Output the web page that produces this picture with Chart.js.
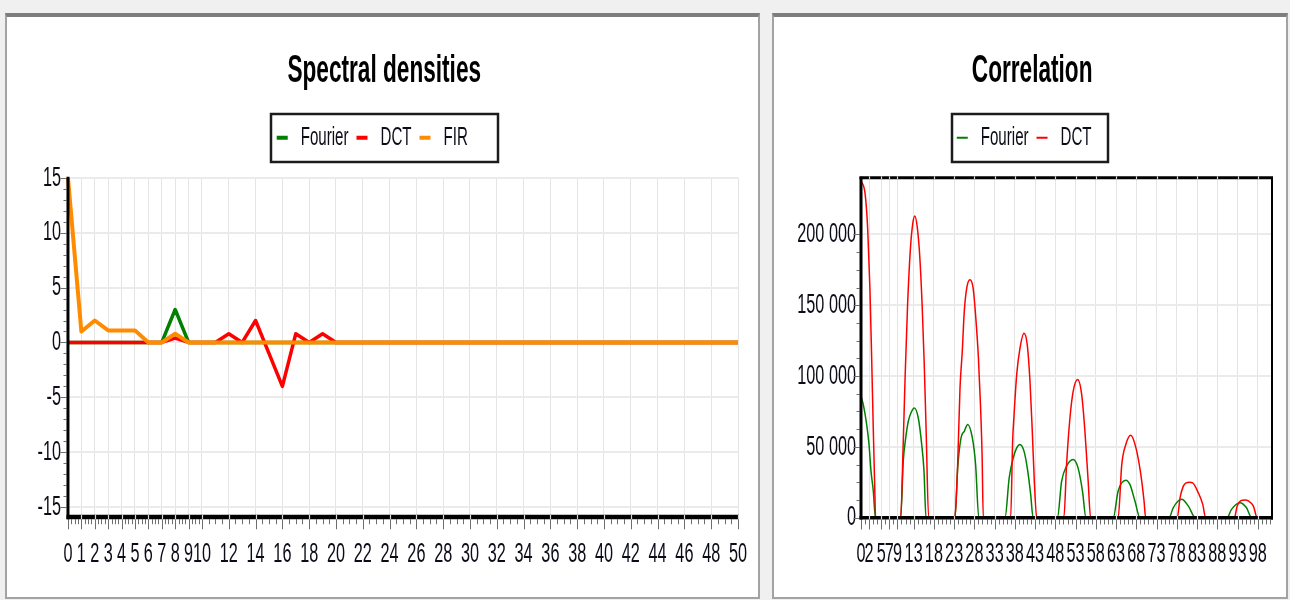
<!DOCTYPE html>
<html><head><meta charset="utf-8">
<script src="https://cdn.jsdelivr.net/npm/chart.js"></script>
<style>
html,body{margin:0;padding:0;background:#f0f0f0;width:1290px;height:600px;overflow:hidden}
.panel{position:absolute;top:13px;height:586px;background:#fff;box-sizing:border-box;border:2px solid #a3a3a3;border-top:4px solid #7d7d7d}
#p1{left:5px;width:755px}
#p2{left:772px;width:516px}
canvas{display:block}
</style></head><body>
<div class="panel" id="p1"><canvas id="c1" width="751" height="580"></canvas></div>
<div class="panel" id="p2"><canvas id="c2" width="512" height="580"></canvas></div>
<script>
// ---------- data ----------
const specX = [0,1,2,3,4,5,6,7,8,9,10,11,12,13,14,15,16,17,18,19,20,21,22,23,24,25,26,27,28,29,30,31,32,33,34,35,36,37,38,39,40,41,42,43,44,45,46,47,48,49,50];
const fourierSpec = [0,0,0,0,0,0,0,0,3,0, 0,0,0,0,0,0,0,0,0,0, 0,0,0,0,0,0,0,0,0,0, 0,0,0,0,0,0,0,0,0,0, 0,0,0,0,0,0,0,0,0,0, 0];
const dctSpec     = [0,0,0,0,0,0,0,0,0.4,0, 0,0,0.8,0,2,-1,-4,0.8,0,0.8, 0,0,0,0,0,0,0,0,0,0, 0,0,0,0,0,0,0,0,0,0, 0,0,0,0,0,0,0,0,0,0, 0];
const firSpec     = [15,1,2,1.1,1.1,1.1,0,0,0.8,0, 0,0,0,0,0,0,0,0,0,0, 0,0,0,0,0,0,0,0,0,0, 0,0,0,0,0,0,0,0,0,0, 0,0,0,0,0,0,0,0,0,0, 0];
const specXTicks = [0,1,2,3,4,5,6,7,8,9,10,12,14,16,18,20,22,24,26,28,30,32,34,36,38,40,42,44,46,48,50];
const specYTicks = [-15,-10,-5,0,5,10,15];

const fourierCorrX = [0,0.57,1.4,1.98,2.47,3.04,3.55,
  9.8,10.44,11.04,11.68,12.4,13.16,14.15,14.99,15.56,16.05,
  23.2,23.88,24.7,25.5,26.35,27.5,28.3,29.1,
  35.56,36.6,37.6,38.45,39.26,40.25,41.06,41.9,42.5,
  48.5,49.55,50.77,52.4,53.6,54.7,55.55,
  62.3,63.5,65.4,66.4,67.65,68.9,
  76.1,77.1,79.2,80.85,82.6,
  90.4,91.5,93.6,95.2,96.5,100];
const fourierCorrY = [85700,79900,65800,51700,32900,18800,0,
  0,40000,56300,68100,74500,77500,70400,51700,32900,0,
  0,35200,56300,61000,65800,56300,37600,0,
  0,28200,42300,49300,51700,47000,35200,16500,0,
  0,25800,36400,41100,35200,18800,0,
  0,18800,26500,23500,11800,0,
  0,7000,13000,8200,0,
  0,5900,10600,7000,0,0];
const dctCorrX = [0,1,1.65,2.2,2.63,3.03,3.4,3.6,
  9.8,10.4,10.9,11.5,12.2,12.8,13.3,13.9,14.5,15.1,15.6,16.1,16.7,
  23.15,23.45,23.9,24.45,25.0,25.5,26.1,26.9,27.7,28.3,29.0,29.5,29.9,30.2,
  36.96,37.45,37.8,38.45,39.26,40.25,41.06,41.73,42.3,42.8,43.4,
  50.1,50.77,51.6,52.4,53.5,54.5,55.3,56.1,56.7,
  63.5,64.4,65.4,66.6,67.9,69.1,69.9,70.3,
  78.1,78.8,79.6,80.3,81.1,81.9,83.3,84.4,85.1,
  92.2,92.9,93.8,94.8,95.6,96.9,97.85,100];
const dctCorrY = [238000,229000,204000,162000,113000,63000,20000,0,
  0,50000,100000,150000,190000,208000,213000,205000,185000,150000,110000,60000,0,
  0,9400,40000,91500,117000,145500,162000,168000,162000,143000,112700,80000,44600,0,
  0,54000,72800,101000,119700,130300,122000,96300,61000,25800,0,
  0,37600,70400,89200,97500,86900,61000,25800,0,
  0,37600,51700,58200,49300,30600,11800,0,
  0,14100,22300,24600,25000,24600,17600,9400,0,
  0,8200,12000,12500,12000,8200,0,0];
const corrXTicks = [0,2,5,7,9,13,18,23,28,33,38,43,48,53,58,63,68,73,78,83,88,93,98];
const corrYTicks = [0,50000,100000,150000,200000];

// ---------- condensed text rendering ----------
const TEXT_SX = 0.58;
(function(){
  const P = CanvasRenderingContext2D.prototype;
  const fill = P.fillText, measure = P.measureText;
  P.fillText = function(t, x, y) {
    this.save(); this.translate(x, y); this.scale(TEXT_SX, 1); fill.call(this, t, 0, 0); this.restore();
  };
  P.measureText = function(t) {
    const m = measure.call(this, t);
    return {width: m.width * TEXT_SX,
      actualBoundingBoxLeft: m.actualBoundingBoxLeft * TEXT_SX,
      actualBoundingBoxRight: m.actualBoundingBoxRight * TEXT_SX,
      actualBoundingBoxAscent: m.actualBoundingBoxAscent,
      actualBoundingBoxDescent: m.actualBoundingBoxDescent,
      fontBoundingBoxAscent: m.fontBoundingBoxAscent,
      fontBoundingBoxDescent: m.fontBoundingBoxDescent};
  };
})();

Chart.defaults.font.family = "'Liberation Sans', Arial, sans-serif";
Chart.defaults.color = '#0c0c18';
Chart.defaults.animation = false;

const toPts = (xs, ys) => xs.map((x, i) => ({x, y: ys[i]}));
const spaced = v => String(v).replace(/\B(?=(\d{3})+(?!\d))/g, ' ');

function minors(maj, sub, step, max) {
  const out = [];
  for (let i = 0; i < maj.length - 1; i++) {
    const a = maj[i], b = maj[i + 1];
    if (step) { for (let v = a + step; v < b - 1e-9; v += step) out.push(v); }
    else { for (let k = 1; k < sub; k++) out.push(a + (b - a) * k / sub); }
  }
  if (step && max !== undefined) {
    for (let v = maj[maj.length - 1] + step; v <= max + 1e-9; v += step) out.push(v);
  }
  return out;
}

const framePlugin = {
  id: 'frame',
  afterLayout(chart, args, o) {
    const lg = chart.legend;
    if (lg && o.lgShift) { lg.left += o.lgShift; lg.right += o.lgShift; }
  },
  afterDatasetsDraw(chart, args, o) {
    const {ctx, chartArea: a} = chart;
    const xs = chart.scales.x, ys = chart.scales.y;
    const seg = (x1, y1, x2, y2, w, c) => { ctx.beginPath(); ctx.lineWidth = w; ctx.strokeStyle = c; ctx.moveTo(x1, y1); ctx.lineTo(x2, y2); ctx.stroke(); };
    ctx.save();
    const xMaj = xs.ticks.map(t => t.value), yMaj = ys.ticks.map(t => t.value);
    const tc = '#6e6e6e';
    const bB = a.bottom + o.bottomW / 2, lL = a.left - o.leftW / 2;
    minors(xMaj, o.xSub, o.xStep, xs.max).forEach(v => { const p = Math.round(xs.getPixelForValue(v)) + 0.5; seg(p, bB, p, bB + 5, 1, tc); });
    xMaj.forEach(v => { const p = Math.round(xs.getPixelForValue(v)) + 0.5; seg(p, bB, p, bB + 10, 1, tc); });
    minors(yMaj, o.ySub, null).forEach(v => { const p = Math.round(ys.getPixelForValue(v)) + 0.5; seg(lL, p, lL - 3, p, 1, tc); });
    yMaj.forEach(v => { const p = Math.round(ys.getPixelForValue(v)) + 0.5; seg(lL, p, lL - 6, p, 1, tc); });
    seg(a.left, a.top - 1, a.left, a.bottom + o.bottomW / 2, o.leftW, '#000');
    seg(a.left - o.leftW / 2, a.bottom, a.right + 1, a.bottom, o.bottomW, '#000');
    if (o.box) {
      seg(a.left - o.leftW / 2, a.top, a.right + 1, a.top, 3, '#000');
      seg(a.right, a.top, a.right, a.bottom + o.bottomW / 2, 2, '#000');
    }
    xMaj.forEach(v => {
      if (v === xs.min) return;
      const p = Math.round(xs.getPixelForValue(v)) + 0.5;
      seg(p, a.bottom - o.bottomW / 2, p, a.bottom + o.bottomW / 2, 1.2, '#d6d6d6');
      if (o.box) seg(p, a.top - 1.5, p, a.top + 1.5, 1.2, '#d6d6d6');
    });
    ctx.restore();
  },
  afterDraw(chart, args, o) {
    const lg = chart.legend;
    if (!lg) return;
    const ctx = chart.ctx;
    const cy = lg.top + lg.options.labels.padding + lg.options.labels.font.size / 2;
    const cx = chart.width / 2 + o.lgOff;
    ctx.save();
    ctx.lineWidth = 2.5; ctx.strokeStyle = '#1c1c1c';
    ctx.strokeRect(Math.round(cx - o.lgW / 2), Math.round(cy - 24), o.lgW, 48);
    ctx.restore();
  }
};

function makeOptions(c) {
  return {
    responsive: false,
    events: [],
    layout: {padding: c.pad},
    plugins: {
      tooltip: {enabled: false},
      title: {display: true, text: c.title, font: {size: 39, weight: 'bold', lineHeight: 1.2}, color: '#000', padding: {top: 31, bottom: 22}},
      subtitle: {display: true, text: '', weight: 500, padding: 0, font: {size: 17, lineHeight: 1}},
      legend: {
        display: true, position: 'top',
        labels: {
          font: {size: 26, lineHeight: 1.2}, color: '#0c0c18', padding: 8,
          boxWidth: 11, boxHeight: c.boxH,
          sort: (a, b) => a.datasetIndex - b.datasetIndex,
          generateLabels(chart) {
            return Chart.defaults.plugins.legend.labels.generateLabels(chart)
              .map(it => Object.assign({}, it, {fillStyle: it.strokeStyle, lineWidth: 0}));
          }
        }
      },
      frame: c.frame
    },
    scales: {
      x: {
        type: 'linear', min: c.xMin, max: c.xMax,
        afterBuildTicks: s => { s.ticks = c.xTicks.map(v => ({value: v})); },
        afterFit: s => { s.paddingLeft = 0; s.paddingRight = 0; },
        ticks: {autoSkip: false, maxRotation: 0, minRotation: 0, padding: 20, font: {size: 28, lineHeight: 1.2}, color: '#0c0c18', callback: v => String(v)},
        grid: {color: '#e4e4e4', lineWidth: 1, drawTicks: false},
        border: {display: false}
      },
      y: {
        type: 'linear', min: c.yMin, max: c.yMax,
        afterBuildTicks: s => { s.ticks = c.yTicks.map(v => ({value: v})); },
        ticks: {padding: c.yPad, font: {size: 28, lineHeight: 1.2}, color: '#0c0c18', callback: c.yFmt},
        grid: {color: '#ebebeb', lineWidth: 2, drawTicks: false},
        border: {display: false}
      }
    }
  };
}

new Chart(document.getElementById('c1'), {
  type: 'line',
  data: {
    datasets: [
      {label: 'Fourier', data: toPts(specX, fourierSpec), borderColor: '#008000', backgroundColor: '#008000', borderWidth: 3.5, pointRadius: 0, tension: 0, order: 2, clip: 8, borderJoinStyle: 'round'},
      {label: 'DCT', data: toPts(specX, dctSpec), borderColor: '#ff0000', backgroundColor: '#ff0000', borderWidth: 3.5, pointRadius: 0, tension: 0, order: 1, clip: 8, borderJoinStyle: 'round'},
      {label: 'FIR', data: toPts(specX, firSpec), borderColor: '#ff8c00', backgroundColor: '#ff8c00', borderWidth: 4, pointRadius: 0, tension: 0, order: 0, clip: 8, borderJoinStyle: 'round'}
    ]
  },
  options: makeOptions({
    title: 'Spectral densities', pad: {left: 23.5, right: 20, top: 0, bottom: 6.4}, boxH: 4,
    xMin: 0, xMax: 50, xTicks: specXTicks, yMin: -15.9, yMax: 15, yTicks: specYTicks, yPad: 7,
    yFmt: v => String(v),
    frame: {leftW: 3, bottomW: 4.5, box: false, xSub: 4, ySub: 5, lgW: 227, lgOff: 2, lgShift: -12}
  }),
  plugins: [framePlugin]
});

new Chart(document.getElementById('c2'), {
  type: 'line',
  data: {
    datasets: [
      {label: 'Fourier', data: toPts(fourierCorrX, fourierCorrY), borderColor: '#008000', backgroundColor: '#008000', borderWidth: 1.5, pointRadius: 0, cubicInterpolationMode: 'monotone', order: 1, clip: 4},
      {label: 'DCT', data: toPts(dctCorrX, dctCorrY), borderColor: '#ff0000', backgroundColor: '#ff0000', borderWidth: 1.5, pointRadius: 0, cubicInterpolationMode: 'monotone', order: 0, clip: 4}
    ]
  },
  options: makeOptions({
    title: 'Correlation', pad: {left: 18.3, right: 14, top: 0, bottom: 5.7}, boxH: 2,
    xMin: 0, xMax: 101.5, xTicks: corrXTicks, yMin: 0, yMax: 240000, yTicks: corrYTicks, yPad: 5,
    yFmt: v => spaced(v),
    frame: {leftW: 3, bottomW: 3.5, box: true, xStep: 1, ySub: 4, lgW: 156, lgOff: 0, lgShift: -8}
  }),
  plugins: [framePlugin]
});
</script></body></html>
